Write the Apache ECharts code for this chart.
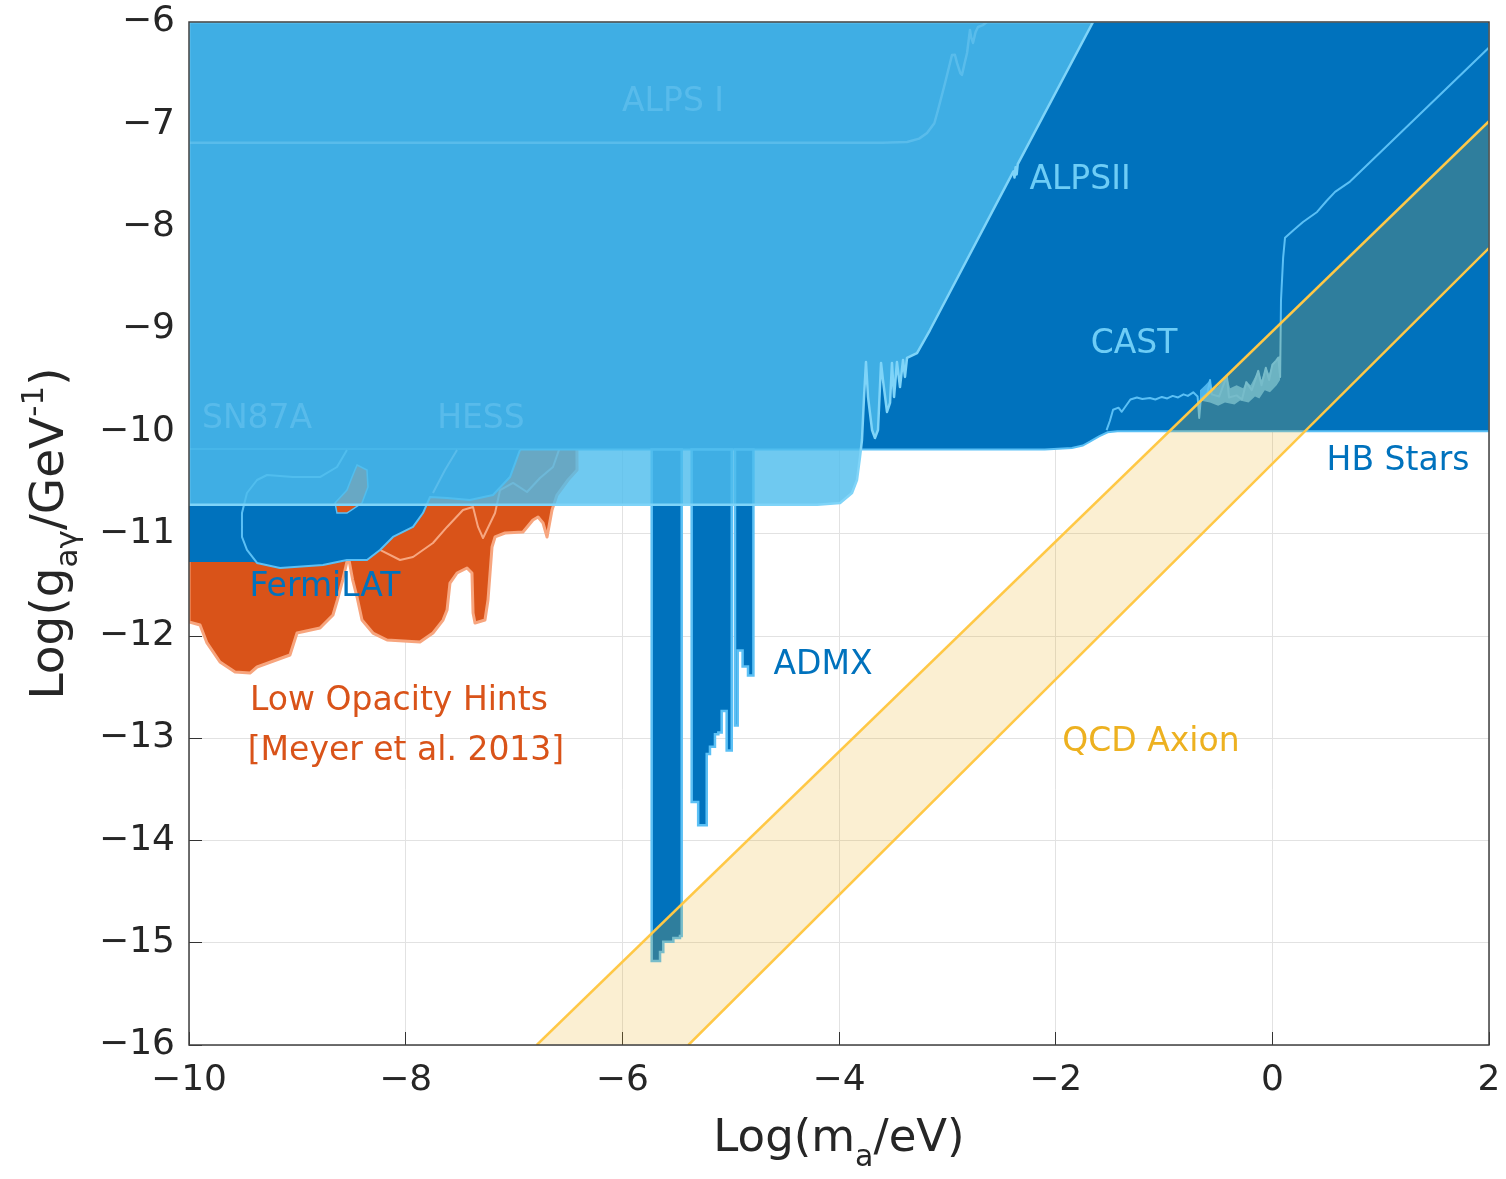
<!DOCTYPE html>
<html>
<head>
<meta charset="utf-8">
<script src="https://cdn.jsdelivr.net/npm/echarts@6/dist/echarts.min.js"></script>
<style>
  html, body { margin: 0; padding: 0; background: #fff; }
  #chart { width: 1506px; height: 1179px; }
</style>
</head>
<body>
<div id="chart"></div>
<script>
// Axion-photon coupling exclusion limits, log10 units: [log m_a / eV, log g / GeV^-1]

// Low-opacity hints region (Meyer et al. 2013)
const lowOpacityHints = [
  [-10.0, -10.0], [-6.42, -10.0], [-6.418, -10.38], [-6.501, -10.477], [-6.603, -10.624],
  [-6.649, -10.77], [-6.695, -11.034], [-6.732, -10.897], [-6.778, -10.839], [-6.825, -10.868],
  [-6.917, -10.985], [-7.083, -10.995], [-7.175, -11.034], [-7.203, -11.132], [-7.24, -11.65],
  [-7.268, -11.846], [-7.36, -11.875], [-7.378, -11.777], [-7.388, -11.386], [-7.434, -11.337],
  [-7.526, -11.386], [-7.591, -11.484], [-7.618, -11.748], [-7.655, -11.846], [-7.748, -11.973],
  [-7.868, -12.061], [-8.172, -12.041], [-8.302, -11.973], [-8.403, -11.846], [-8.449, -11.621],
  [-8.49, -11.45], [-8.53, -11.22], [-8.58, -11.45], [-8.63, -11.65], [-8.671, -11.797],
  [-8.791, -11.924], [-9.003, -11.973], [-9.068, -12.188], [-9.372, -12.305], [-9.437, -12.364],
  [-9.575, -12.354], [-9.714, -12.256], [-9.834, -12.07], [-9.898, -11.894], [-10.0, -11.865]
];
const lowOpacityIsland = [
  [-8.449, -10.33], [-8.357, -10.379], [-8.348, -10.545], [-8.403, -10.702], [-8.542, -10.8],
  [-8.634, -10.8], [-8.652, -10.702], [-8.542, -10.575], [-8.495, -10.448]
];

// CAST / HB stars excluded region
const castHbRegion = [
  [-10, -6], [2, -6], [2, -10.0], [-1.43, -10.0], [-1.52, -10.01], [-1.6, -10.05],
  [-1.68, -10.1], [-1.75, -10.14], [-1.85, -10.165], [-2.1, -10.18], [-10, -10.18]
];

// CAST sensitivity curve
const castCurve = [
  [-1.53, -9.99], [-1.50, -9.90], [-1.47, -9.79], [-1.42, -9.77], [-1.39, -9.81], [-1.31, -9.69],
  [-1.25, -9.67], [-1.20, -9.685], [-1.13, -9.675], [-1.08, -9.69], [-1.02, -9.665], [-0.97, -9.68],
  [-0.92, -9.655], [-0.87, -9.67], [-0.82, -9.64], [-0.78, -9.655], [-0.73, -9.62], [-0.69, -9.66],
  [-0.675, -9.87], [-0.66, -9.68], [-0.60, -9.63], [-0.575, -9.5], [-0.56, -9.64], [-0.49, -9.66],
  [-0.42, -9.46], [-0.40, -9.67], [-0.33, -9.65], [-0.28, -9.69], [-0.24, -9.52], [-0.19, -9.6],
  [-0.13, -9.41], [-0.10, -9.55], [-0.06, -9.38], [-0.03, -9.5], [0.00, -9.35], [0.035, -9.31],
  [0.055, -9.28], [0.072, -9.47], [0.08, -8.72], [0.10, -8.3], [0.117, -8.11], [0.20, -8.03],
  [0.283, -7.955], [0.413, -7.857], [0.50, -7.75], [0.579, -7.66], [0.717, -7.56], [2.0, -6.25]
];
// dense scatter of the CAST curve at high mass
const castScatterBand = [
  [-0.668, -9.6], [-0.62, -9.55], [-0.575, -9.5], [-0.55, -9.6], [-0.5, -9.56], [-0.42, -9.46],
  [-0.39, -9.58], [-0.33, -9.55], [-0.27, -9.58], [-0.24, -9.52], [-0.2, -9.55], [-0.13, -9.41],
  [-0.1, -9.5], [-0.06, -9.38], [-0.03, -9.44], [0.0, -9.35], [0.035, -9.31], [0.055, -9.28],
  [0.071, -9.26], [0.071, -9.5], [0.04, -9.55], [-0.022, -9.62], [-0.07, -9.6], [-0.12, -9.68],
  [-0.16, -9.66], [-0.22, -9.72], [-0.298, -9.7], [-0.35, -9.74], [-0.437, -9.72], [-0.5, -9.75],
  [-0.576, -9.72], [-0.668, -9.7]
];

// FermiLAT excluded region and contour
const fermiLatRegion = [
  [-10, -10.18], [-6.945, -10.18], [-7.037, -10.448], [-7.194, -10.624], [-7.406, -10.672],
  [-7.618, -10.653], [-7.775, -10.643], [-7.84, -10.8], [-7.932, -10.936], [-8.117, -11.034],
  [-8.237, -11.161], [-8.357, -11.259], [-8.542, -11.259], [-8.763, -11.308], [-9.16, -11.337],
  [-9.372, -11.288], [-9.409, -11.278], [-10, -11.278]
];
const fermiLatContour = [
  [-8.542, -10.184], [-8.634, -10.35], [-8.791, -10.448], [-9.04, -10.448], [-9.28, -10.428],
  [-9.372, -10.477], [-9.465, -10.604], [-9.511, -10.8], [-9.511, -11.034], [-9.465, -11.161],
  [-9.372, -11.288], [-9.16, -11.337], [-8.763, -11.308], [-8.542, -11.259], [-8.357, -11.259],
  [-8.237, -11.161], [-8.117, -11.034], [-7.932, -10.936], [-7.84, -10.8], [-7.775, -10.643],
  [-7.618, -10.653], [-7.406, -10.672], [-7.194, -10.624], [-7.037, -10.448], [-6.945, -10.184]
];

// HESS contour pieces
const hessContourLow = [
  [-8.237, -11.161], [-8.052, -11.259], [-7.932, -11.23], [-7.748, -11.093], [-7.618, -10.936],
  [-7.471, -10.77], [-7.378, -10.741], [-7.332, -10.936], [-7.286, -11.044], [-7.175, -10.8],
  [-7.129, -10.575], [-7.009, -10.506], [-6.88, -10.594], [-6.76, -10.457], [-6.64, -10.35],
  [-6.575, -10.154]
];
const hessContourHigh = [[-7.526, -10.184], [-7.637, -10.38], [-7.748, -10.604]];

// ADMX excluded windows
const admxBar1 = [
  [-5.729, -10.18], [-5.729, -15.18], [-5.652, -15.18], [-5.652, -15.09], [-5.622, -15.09],
  [-5.622, -14.99], [-5.529, -14.99], [-5.529, -14.953], [-5.468, -14.953], [-5.468, -14.935],
  [-5.452, -14.935], [-5.452, -10.18]
];
const admxBar2 = [
  [-5.36, -10.18], [-5.36, -13.625], [-5.30, -13.625], [-5.30, -13.853], [-5.221, -13.853],
  [-5.221, -13.155], [-5.191, -13.155], [-5.191, -13.085], [-5.145, -13.085], [-5.145, -12.963],
  [-5.114, -12.963], [-5.114, -12.945], [-5.083, -12.945], [-5.083, -12.735], [-5.037, -12.735],
  [-5.037, -13.12], [-4.99, -13.12], [-4.99, -10.18]
];
const admxBar3 = [
  [-4.96, -10.18], [-4.96, -12.876], [-4.935, -12.876], [-4.935, -12.143], [-4.89, -12.143],
  [-4.89, -12.30], [-4.84, -12.30], [-4.84, -12.388], [-4.79, -12.388], [-4.79, -10.18]
];

// ALPS I / ALPS II / SN87A / HESS combined region
const alpsRegion = [
  [-10, -6], [-1.655, -6], [-2.35, -7.39], [-2.36, -7.49], [-2.37, -7.42], [-2.38, -7.52],
  [-2.39, -7.46], [-3.16, -9.011], [-3.28, -9.236], [-3.372, -9.284], [-3.391, -9.47],
  [-3.409, -9.304], [-3.437, -9.568], [-3.465, -9.324], [-3.492, -9.666], [-3.511, -9.333],
  [-3.529, -9.724], [-3.557, -9.812], [-3.594, -9.5], [-3.612, -9.333], [-3.64, -9.988],
  [-3.668, -10.066], [-3.695, -9.988], [-3.732, -9.666], [-3.751, -9.324], [-3.769, -9.666],
  [-3.788, -10.086], [-3.806, -10.252], [-3.834, -10.477], [-3.88, -10.604], [-3.99, -10.702],
  [-4.2, -10.72], [-10, -10.72]
];
const alpsICurve = [
  [-10, -7.18], [-3.6, -7.18], [-3.372, -7.173], [-3.26, -7.14], [-3.187, -7.085], [-3.12, -6.99],
  [-3.086, -6.86], [-3.021, -6.596], [-2.957, -6.323], [-2.93, -6.32], [-2.911, -6.4], [-2.88, -6.5],
  [-2.865, -6.518], [-2.84, -6.4], [-2.818, -6.303], [-2.791, -6.078], [-2.78, -6.15], [-2.763, -6.205],
  [-2.74, -6.1], [-2.717, -6.049], [-2.671, -6.03], [-2.634, -6.0]
];

// QCD axion band edges
const qcdUpper = [[-6.79, -16], [2, -6.97]];
const qcdLower = [[-5.39, -16], [2, -8.21]];

// axis ticks
const xTicks = [-10, -8, -6, -4, -2, 0, 2];
const yTicks = [-16, -15, -14, -13, -12, -11, -10, -9, -8, -7, -6];

const FONT = '"DejaVu Sans", "Noto Sans", sans-serif';
const DARK = '#0072BD';
const ORANGE = '#D95319';
const EDGE = '#5BC0F5';

function minusFmt(v) { return v < 0 ? '\u2212' + Math.abs(v) : String(v); }

function areaSeries(pts, style, z) {
  return {
    type: 'custom', coordinateSystem: 'cartesian2d', z: z, silent: true, clip: true,
    data: [pts[0]],
    renderItem: function (params, api) {
      return { type: 'polygon', shape: { points: pts.map(function (p) { return api.coord(p); }) }, style: style };
    }
  };
}
function lineSeries(pts, style, z) {
  return {
    type: 'custom', coordinateSystem: 'cartesian2d', z: z, silent: true, clip: true,
    data: [pts[0]],
    renderItem: function (params, api) {
      return {
        type: 'polyline', shape: { points: pts.map(function (p) { return api.coord(p); }) },
        style: Object.assign({ fill: null, lineJoin: 'round' }, style)
      };
    }
  };
}

const labels = [
  { text: 'ALPS I', at: [-5.532, -6.79], color: 'rgba(120,205,245,0.45)' },
  { text: 'SN87A', at: [-9.372, -9.88], color: 'rgba(120,205,245,0.45)' },
  { text: 'HESS', at: [-7.305, -9.88], color: 'rgba(120,205,245,0.45)' },
  { text: 'ALPSII', at: [-1.775, -7.545], color: '#6ECDF6' },
  { text: 'CAST', at: [-1.277, -9.148], color: '#6ECDF6' },
  { text: 'HB Stars', at: [1.16, -10.3], color: DARK },
  { text: 'FermiLAT', at: [-8.745, -11.53], color: DARK },
  { text: 'ADMX', at: [-4.148, -12.285], color: DARK },
  { text: 'Low Opacity Hints', at: [-8.062, -12.645], color: ORANGE },
  { text: '[Meyer et al. 2013]', at: [-7.997, -13.135], color: ORANGE },
  { text: 'QCD Axion', at: [-1.12, -13.045], color: '#EDB120' }
];

const labelSeries = {
  type: 'custom', coordinateSystem: 'cartesian2d', z: 9, silent: true,
  data: labels.map(function (l) { return l.at; }),
  renderItem: function (params, api) {
    const l = labels[params.dataIndex];
    const p = api.coord(l.at);
    return {
      type: 'text', x: p[0], y: p[1],
      style: { text: l.text, fill: l.color, fontSize: 33, fontFamily: FONT, align: 'center', verticalAlign: 'middle' }
    };
  }
};

const qcdBand = qcdUpper.concat(qcdLower.slice().reverse());

const chart = echarts.init(document.getElementById('chart'), null, { renderer: 'canvas' });
chart.setOption({
  animation: false,
  backgroundColor: '#ffffff',
  textStyle: { fontFamily: FONT },
  grid: {
    left: 189, top: 22, width: 1300, height: 1023,
    show: true, borderColor: '#404040', borderWidth: 1.5, backgroundColor: 'transparent', z: 20
  },
  xAxis: {
    type: 'value', min: xTicks[0], max: xTicks[xTicks.length - 1], interval: 2,
    axisLine: { show: false, onZero: false },
    axisTick: { show: true, inside: true, length: 13, lineStyle: { color: '#333', width: 1 } },
    axisLabel: { fontSize: 36, color: '#262626', margin: 18, fontFamily: FONT, formatter: minusFmt },
    splitLine: { show: true, lineStyle: { color: '#e2e2e2', width: 1 } },
    name: '{n|Log(m}{s|a}{n|/eV)}', nameLocation: 'middle', nameGap: 64,
    nameTextStyle: {
      color: '#262626', fontFamily: FONT,
      rich: {
        n: { fontSize: 45, lineHeight: 56, padding: [8, 0, 0, 0], verticalAlign: 'top', fontFamily: FONT, color: '#262626' },
        s: { fontSize: 30, lineHeight: 30, padding: [34, 0, 0, 0], verticalAlign: 'top', fontFamily: FONT, color: '#262626' }
      }
    }
  },
  yAxis: {
    type: 'value', min: yTicks[0], max: yTicks[yTicks.length - 1], interval: 1,
    axisLine: { show: false, onZero: false },
    axisTick: { show: true, inside: true, length: 13, lineStyle: { color: '#333', width: 1 } },
    axisLabel: { fontSize: 36, color: '#262626', margin: 14, fontFamily: FONT, formatter: minusFmt },
    splitLine: { show: true, lineStyle: { color: '#e2e2e2', width: 1 } },
    name: '{n|Log(g}{s|a\u03B3}{n|/GeV}{p|-1}{n|)}', nameLocation: 'middle', nameRotate: 90, nameGap: 114,
    nameTextStyle: {
      color: '#262626', fontFamily: FONT,
      rich: {
        n: { fontSize: 47, lineHeight: 56, padding: [8, 0, 0, 0], verticalAlign: 'top', fontFamily: FONT, color: '#262626' },
        s: { fontSize: 31, lineHeight: 30, padding: [34, 0, 0, 0], verticalAlign: 'top', fontFamily: FONT, color: '#262626' },
        p: { fontSize: 31, lineHeight: 30, padding: [0, 0, 34, 0], verticalAlign: 'top', fontFamily: FONT, color: '#262626' }
      }
    }
  },
  series: [
    areaSeries(lowOpacityHints, { fill: ORANGE, stroke: '#F7A57E', lineWidth: 3, lineJoin: 'round' }, 2),
    lineSeries(hessContourLow, { stroke: 'rgba(250,175,140,0.9)', lineWidth: 2 }, 3),
    areaSeries(castHbRegion, { fill: DARK, stroke: EDGE, lineWidth: 2 }, 3),
    areaSeries(fermiLatRegion, { fill: DARK }, 3),
    lineSeries(fermiLatContour, { stroke: EDGE, lineWidth: 2 }, 4),
    areaSeries(lowOpacityIsland, { fill: ORANGE, stroke: EDGE, lineWidth: 1.5 }, 4),
    areaSeries(admxBar1, { fill: DARK, stroke: EDGE, lineWidth: 2.5 }, 4),
    areaSeries(admxBar2, { fill: DARK, stroke: EDGE, lineWidth: 2.5 }, 4),
    areaSeries(admxBar3, { fill: DARK, stroke: EDGE, lineWidth: 2.5 }, 4),
    areaSeries(castScatterBand, { fill: 'rgba(91,192,245,0.85)' }, 4),
    lineSeries(castCurve, { stroke: EDGE, lineWidth: 2 }, 4),
    areaSeries(alpsRegion, { fill: 'rgba(77,188,236,0.81)', stroke: '#7FD4F8', lineWidth: 2.5, lineJoin: 'round' }, 5),
    lineSeries(alpsICurve, { stroke: 'rgba(138,216,248,0.35)', lineWidth: 2.5 }, 6),
    lineSeries(hessContourHigh, { stroke: 'rgba(138,216,248,0.35)', lineWidth: 2 }, 6),
    areaSeries(qcdBand, { fill: 'rgba(237,177,32,0.2)' }, 7),
    lineSeries(qcdUpper, { stroke: '#FFC846', lineWidth: 2.5 }, 7),
    lineSeries(qcdLower, { stroke: '#FFC846', lineWidth: 2.5 }, 7),
    labelSeries
  ]
});
</script>
</body>
</html>
